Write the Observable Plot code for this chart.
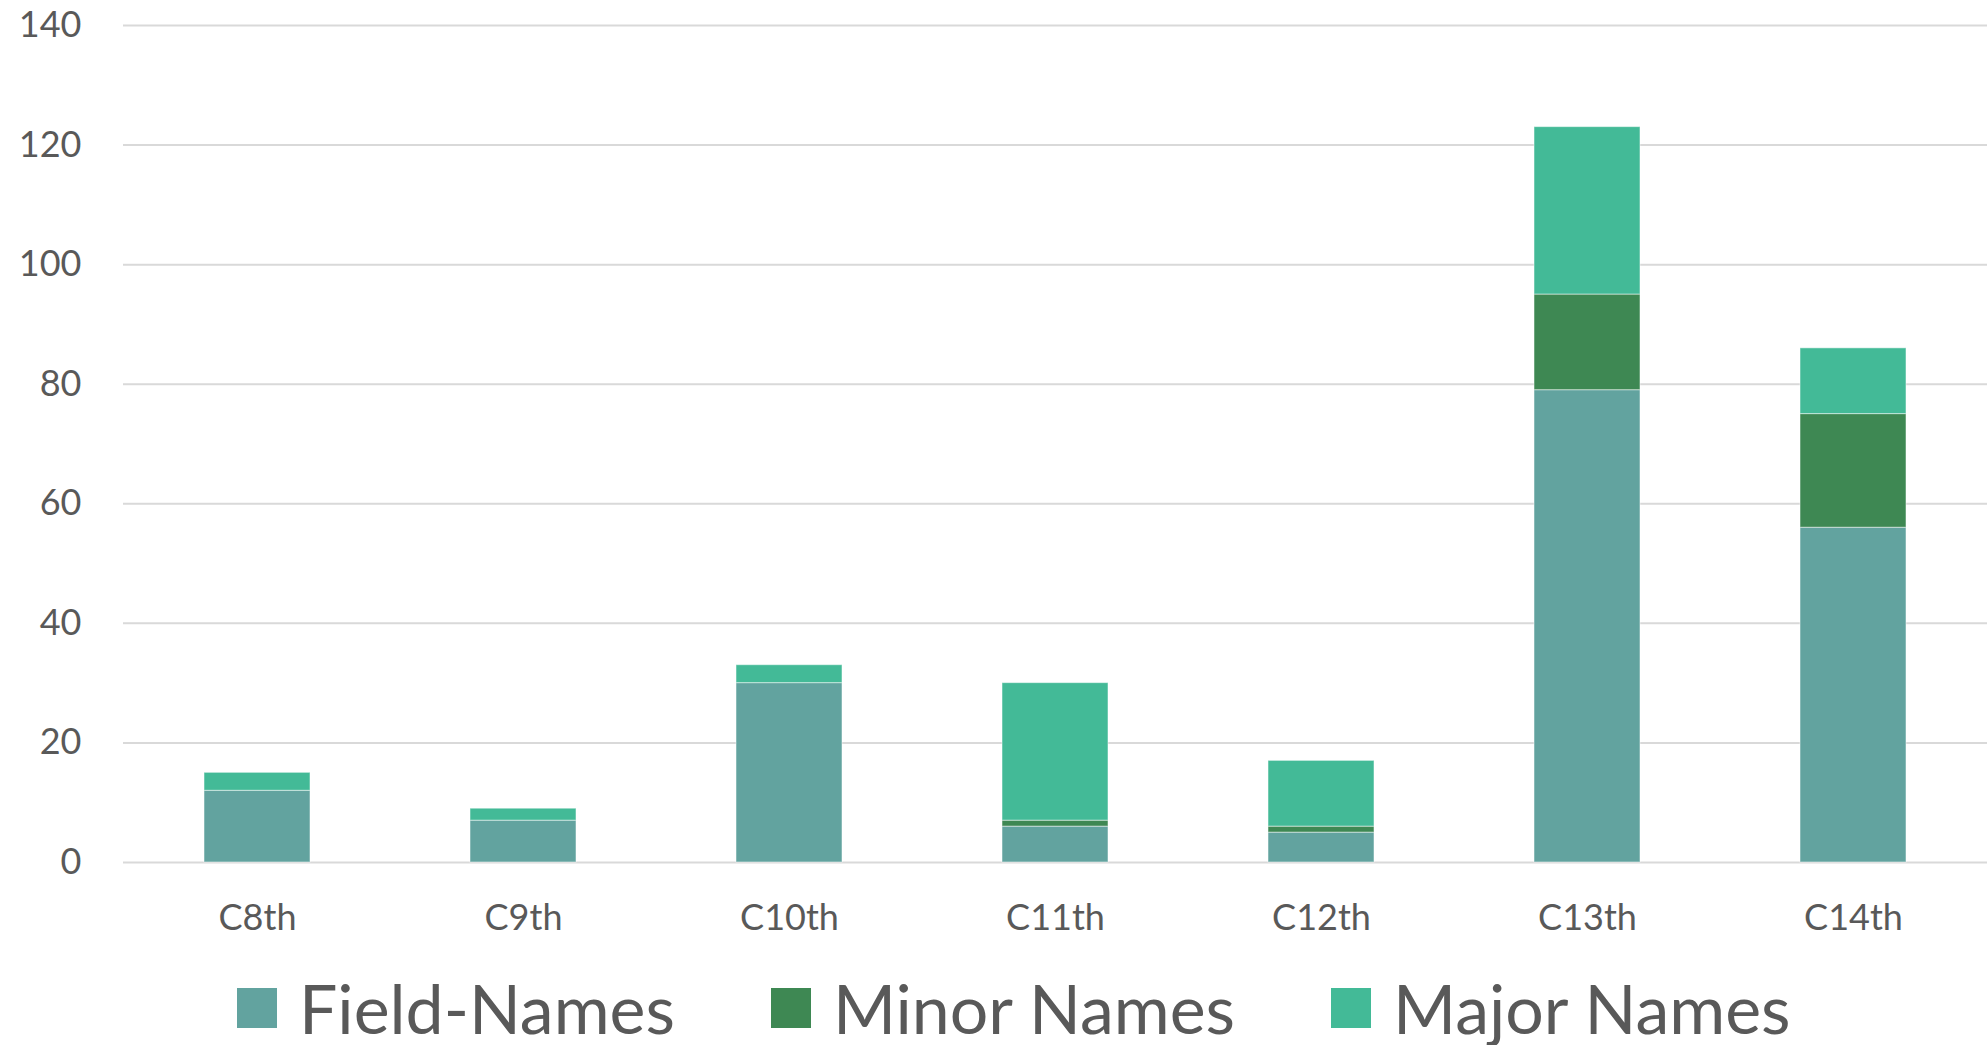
<!DOCTYPE html>
<html>
<head>
<meta charset="utf-8">
<script src="https://cdn.jsdelivr.net/npm/d3@7"></script>
<script src="https://cdn.jsdelivr.net/npm/@observablehq/plot@0.6"></script>
<style>
  html, body { margin: 0; padding: 0; background: #fff; }
  body { width: 1987px; height: 1045px; font-family: Lato, "Open Sans", sans-serif; }
  #legend { display: flex; align-items: center; height: 95px; padding-top: 20px; box-sizing: border-box; padding-left: 237px; color: #595959; font-size: 68px; line-height: 1; }
  .item { display: flex; align-items: center; margin-right: 96px; }
  .sw { width: 40px; height: 40px; margin-right: 22px; }
</style>
</head>
<body>
<div id="chart"></div>
<div id="legend"></div>
<script>
const categories = ["C8th", "C9th", "C10th", "C11th", "C12th", "C13th", "C14th"];
const seriesNames = ["Field-Names", "Minor Names", "Major Names"];
const fieldNames = [12, 7, 30, 6, 5, 79, 56];
const minorNames = [0, 0, 0, 1, 1, 16, 19];
const majorNames = [3, 2, 3, 23, 11, 28, 11];
const seriesColors = ["#62A39F", "#3E8853", "#43BA97"];
const yTicks = [0, 20, 40, 60, 80, 100, 120, 140];

const seriesValues = [fieldNames, minorNames, majorNames];
const data = [];
seriesNames.forEach((s, si) => {
  categories.forEach((c, ci) => {
    data.push({ category: c, series: s, value: seriesValues[si][ci] });
  });
});

const chart = Plot.plot({
  width: 1987,
  height: 950,
  marginTop: 25,
  marginBottom: 88,
  marginLeft: 123,
  marginRight: 0,
  style: { fontFamily: "Lato, 'Open Sans', sans-serif", color: "#595959", background: "#fff" },
  x: { domain: categories, paddingInner: 0.6, paddingOuter: 0.3, label: null, tickSize: 0, tickPadding: 42 },
  y: { domain: [0, 140], ticks: yTicks, label: null, tickSize: 0, tickPadding: 42 },
  color: { domain: seriesNames, range: seriesColors },
  marks: [
    Plot.ruleY(yTicks, { stroke: "#D9D9D9", strokeWidth: 2 }),
    Plot.barY(data, Plot.stackY({
      x: "category",
      y: "value",
      fill: "series",
      order: seriesNames,
      stroke: "white",
      strokeOpacity: 0.5,
      strokeWidth: 1
    })),
    Plot.axisX({ tickSize: 0, tickPadding: 42, fontSize: 36, fill: "#595959" }),
    Plot.axisY({ ticks: yTicks, tickSize: 0, tickPadding: 42, fontSize: 36, fill: "#595959" })
  ]
});
document.getElementById("chart").appendChild(chart);

const legend = document.getElementById("legend");
seriesNames.forEach((s, i) => {
  const item = document.createElement("div");
  item.className = "item";
  const sw = document.createElement("div");
  sw.className = "sw";
  sw.style.background = seriesColors[i];
  const t = document.createElement("span");
  t.textContent = s;
  item.appendChild(sw);
  item.appendChild(t);
  legend.appendChild(item);
});
</script>
</body>
</html>
